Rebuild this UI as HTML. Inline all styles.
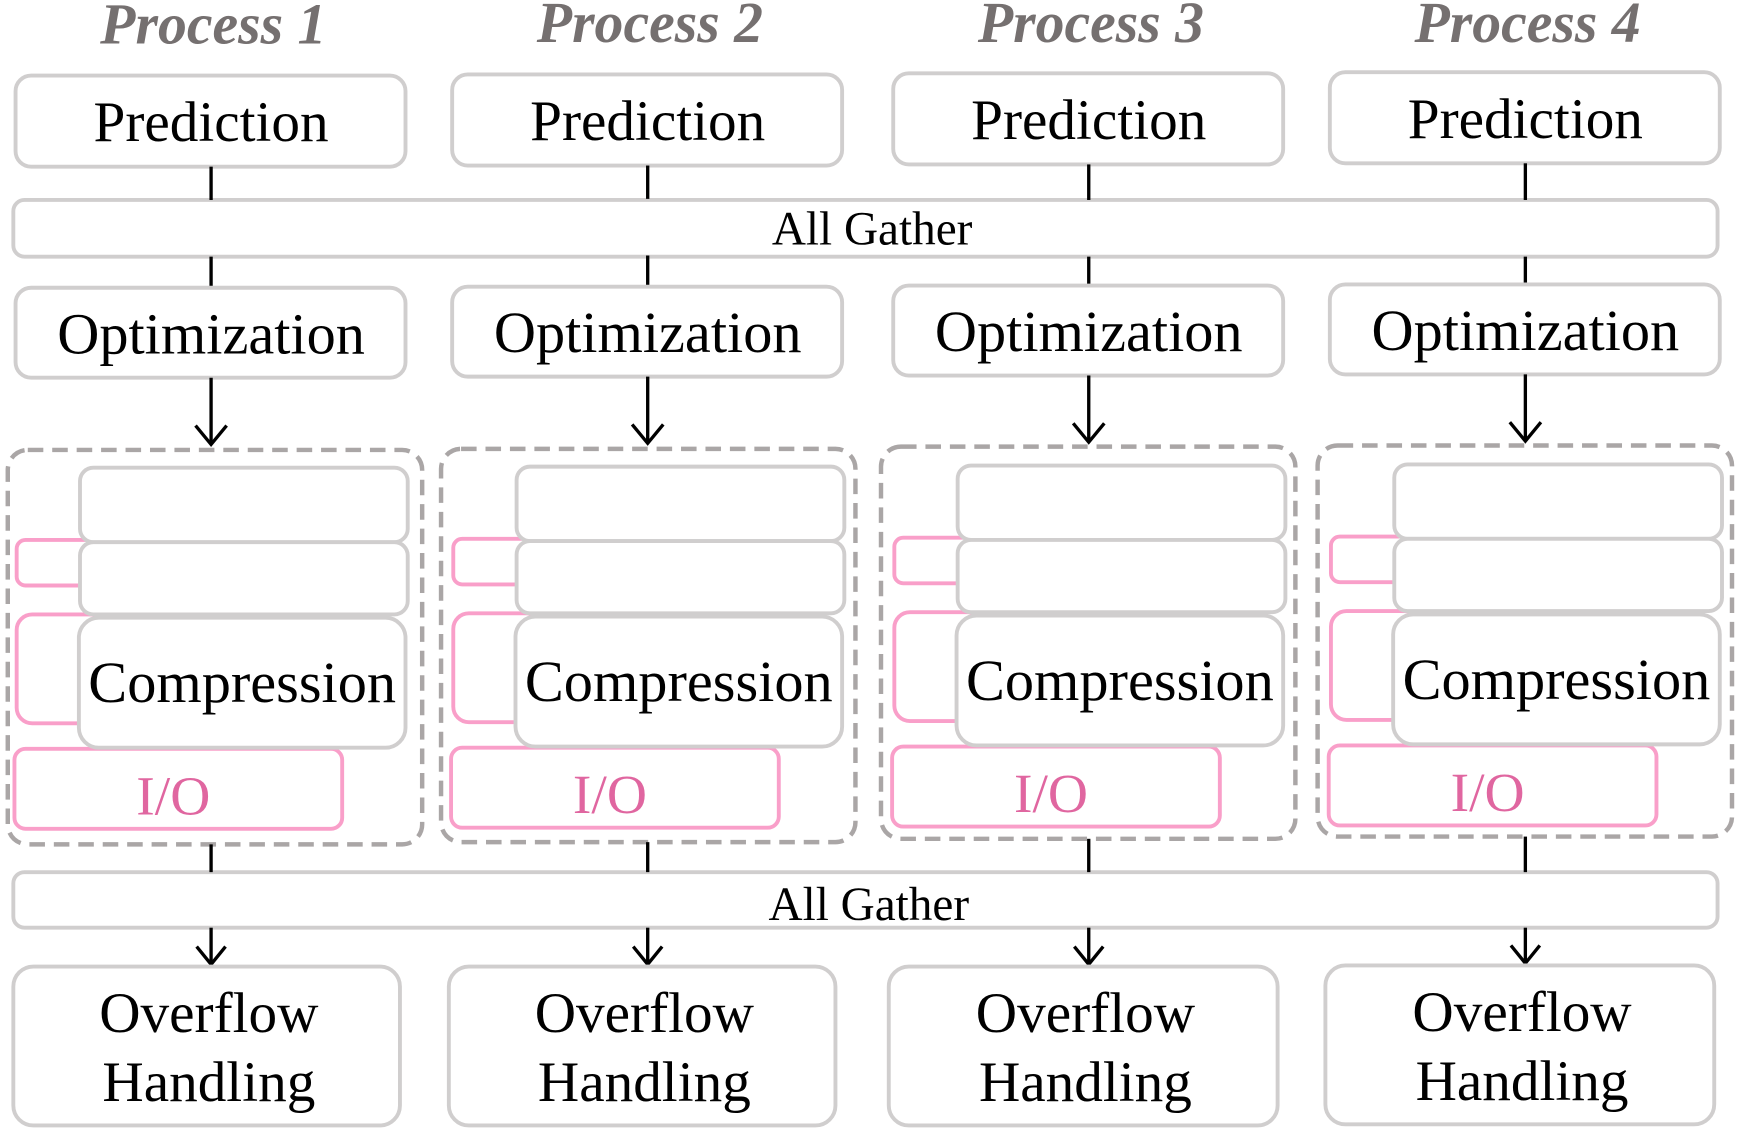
<!DOCTYPE html>
<html><head><meta charset="utf-8"><style>
html,body{margin:0;padding:0;background:#fff;}
svg{display:block;}
text{font-family:"Liberation Serif",serif;fill:#000;text-anchor:middle;}
.b{fill:#fff;stroke:#d0cece;stroke-width:3.5;}
.p{fill:#fff;stroke:#f99fc9;stroke-width:3.5;}
.d{fill:none;stroke:#aaa6a6;stroke-width:4;stroke-dasharray:14 8;}
.l{stroke:#000;stroke-width:3;fill:none;}
.t{font-size:51.5px;}
.tc{font-size:52.5px;}
.ti{font-size:52px;font-weight:bold;font-style:italic;fill:#757070;}
.io{font-size:50px;fill:#e066a0;}
.ag{font-size:42.5px;}
</style></head><body>
<svg width="1742" height="1136" viewBox="0 0 1568 1022.5" preserveAspectRatio="none" xmlns="http://www.w3.org/2000/svg">
<rect class="b" x="12" y="180" width="1534" height="51" rx="10"/>
<text class="ag" x="785" y="220">All Gather</text>
<rect class="b" x="12" y="785" width="1534" height="50" rx="10"/>
<text class="ag" x="782" y="828">All Gather</text>

<g>
<text class="ti" x="192" y="39">Process 1</text>
<rect class="b" x="14" y="68" width="351" height="82" rx="14"/>
<text class="t" x="190" y="127">Prediction</text>
<line class="l" x1="190" y1="150" x2="190" y2="180"/>
<line class="l" x1="190" y1="231" x2="190" y2="259"/>
<rect class="b" x="14" y="259" width="351" height="81" rx="14"/>
<text class="tc" x="190" y="318">Optimization</text>
<line class="l" x1="190" y1="340" x2="190" y2="400"/>
<polyline class="l" points="176,383 190,400 204,383"/>
<rect class="d" x="7" y="405" width="373" height="355" rx="18"/>
<rect class="p" x="15" y="486" width="80" height="41" rx="8"/>
<rect class="p" x="15" y="553" width="80" height="98" rx="14"/>
<rect class="p" x="13" y="674" width="295" height="72" rx="10"/>
<text class="io" x="156" y="733">I/O</text>
<rect class="b" x="72" y="421" width="295" height="67" rx="12"/>
<rect class="b" x="72" y="488" width="295" height="65" rx="12"/>
<rect class="b" x="71" y="556" width="294" height="117" rx="18"/>
<text class="tc" x="218" y="632">Compression</text>
<line class="l" x1="190" y1="760" x2="190" y2="785"/>
<line class="l" x1="190" y1="835" x2="190" y2="868"/>
<polyline class="l" points="177,852 190,868 203,852"/>
<rect class="b" x="12" y="870" width="348" height="143" rx="18"/>
<text class="t" x="188" y="929">Overflow</text>
<text class="t" x="188" y="991">Handling</text>
</g>

<g transform="translate(393,-1)">
<text class="ti" x="192" y="39">Process 2</text>
<rect class="b" x="14" y="68" width="351" height="82" rx="14"/>
<text class="t" x="190" y="127">Prediction</text>
<line class="l" x1="190" y1="150" x2="190" y2="180"/>
<line class="l" x1="190" y1="231" x2="190" y2="259"/>
<rect class="b" x="14" y="259" width="351" height="81" rx="14"/>
<text class="tc" x="190" y="318">Optimization</text>
<line class="l" x1="190" y1="340" x2="190" y2="400"/>
<polyline class="l" points="176,383 190,400 204,383"/>
<rect class="d" x="4" y="405" width="373" height="354" rx="18"/>
<rect class="p" x="15" y="486" width="80" height="41" rx="8"/>
<rect class="p" x="15" y="553" width="80" height="98" rx="14"/>
<rect class="p" x="13" y="674" width="295" height="72" rx="10"/>
<text class="io" x="156" y="733">I/O</text>
<rect class="b" x="72" y="421" width="295" height="67" rx="12"/>
<rect class="b" x="72" y="488" width="295" height="65" rx="12"/>
<rect class="b" x="71" y="556" width="294" height="117" rx="18"/>
<text class="tc" x="218" y="632">Compression</text>
<line class="l" x1="190" y1="759" x2="190" y2="786"/>
<line class="l" x1="190" y1="836" x2="190" y2="869"/>
<polyline class="l" points="177,853 190,869 203,853"/>
<rect class="b" x="11" y="871" width="348" height="143" rx="18"/>
<text class="t" x="187" y="930">Overflow</text>
<text class="t" x="187" y="992">Handling</text>
</g>

<g transform="translate(790,-2)">
<text class="ti" x="192" y="40">Process 3</text>
<rect class="b" x="14" y="68" width="351" height="82" rx="14"/>
<text class="t" x="190" y="127">Prediction</text>
<line class="l" x1="190" y1="150" x2="190" y2="182"/>
<line class="l" x1="190" y1="233" x2="190" y2="259"/>
<rect class="b" x="14" y="259" width="351" height="81" rx="14"/>
<text class="tc" x="190" y="318">Optimization</text>
<line class="l" x1="190" y1="340" x2="190" y2="400"/>
<polyline class="l" points="176,383 190,400 204,383"/>
<rect class="d" x="3" y="404" width="373" height="353" rx="18"/>
<rect class="p" x="15" y="486" width="80" height="41" rx="8"/>
<rect class="p" x="15" y="553" width="80" height="98" rx="14"/>
<rect class="p" x="13" y="674" width="295" height="72" rx="10"/>
<text class="io" x="156" y="733">I/O</text>
<rect class="b" x="72" y="421" width="295" height="67" rx="12"/>
<rect class="b" x="72" y="488" width="295" height="65" rx="12"/>
<rect class="b" x="71" y="556" width="294" height="117" rx="18"/>
<text class="tc" x="218" y="632">Compression</text>
<line class="l" x1="190" y1="757" x2="190" y2="787"/>
<line class="l" x1="190" y1="837" x2="190" y2="870"/>
<polyline class="l" points="177,854 190,870 203,854"/>
<rect class="b" x="10" y="872" width="350" height="143" rx="18"/>
<text class="t" x="187" y="931">Overflow</text>
<text class="t" x="187" y="993">Handling</text>
</g>

<g transform="translate(1183,-3)">
<text class="ti" x="192" y="41">Process 4</text>
<rect class="b" x="14" y="68" width="351" height="82" rx="14"/>
<text class="t" x="190" y="127">Prediction</text>
<line class="l" x1="190" y1="150" x2="190" y2="183"/>
<line class="l" x1="190" y1="234" x2="190" y2="259"/>
<rect class="b" x="14" y="259" width="351" height="81" rx="14"/>
<text class="tc" x="190" y="318">Optimization</text>
<line class="l" x1="190" y1="340" x2="190" y2="400"/>
<polyline class="l" points="176,383 190,400 204,383"/>
<rect class="d" x="3" y="404" width="373" height="352" rx="18"/>
<rect class="p" x="15" y="486" width="80" height="41" rx="8"/>
<rect class="p" x="15" y="553" width="80" height="98" rx="14"/>
<rect class="p" x="13" y="674" width="295" height="72" rx="10"/>
<text class="io" x="156" y="733">I/O</text>
<rect class="b" x="72" y="421" width="295" height="67" rx="12"/>
<rect class="b" x="72" y="488" width="295" height="65" rx="12"/>
<rect class="b" x="71" y="556" width="294" height="117" rx="18"/>
<text class="tc" x="218" y="632">Compression</text>
<line class="l" x1="190" y1="756" x2="190" y2="788"/>
<line class="l" x1="190" y1="838" x2="190" y2="870"/>
<polyline class="l" points="177,854 190,870 203,854"/>
<rect class="b" x="10" y="872" width="350" height="143" rx="18"/>
<text class="t" x="187" y="931">Overflow</text>
<text class="t" x="187" y="993">Handling</text>
</g>
</svg>
</body></html>
